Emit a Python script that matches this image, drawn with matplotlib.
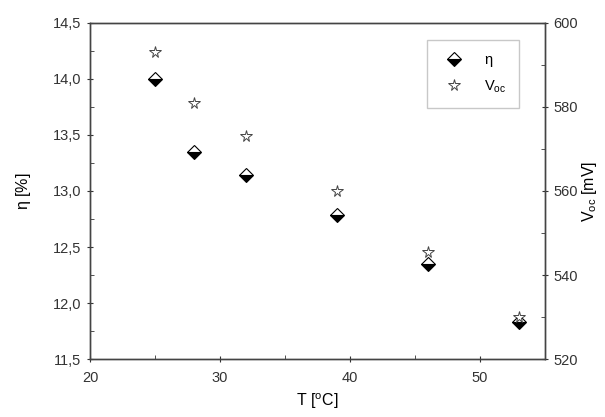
import matplotlib
matplotlib.use("Agg")
import matplotlib.pyplot as plt
from matplotlib.ticker import MultipleLocator, FuncFormatter

plt.rcParams["font.family"] = ["Liberation Sans", "DejaVu Sans"]
plt.rcParams["mathtext.fontset"] = "custom"
plt.rcParams["mathtext.rm"] = "Liberation Sans"
plt.rcParams["mathtext.it"] = "Liberation Sans"

# data
temp = [25, 28, 32, 39, 46, 53]
eta = [14.0, 13.35, 13.14, 12.79, 12.35, 11.83]
voc = [593, 581, 573, 560, 545.5, 530]

fig = plt.figure(figsize=(6.05, 4.17), dpi=100)
ax = fig.add_axes([0.149, 0.139, 0.751, 0.806])
ax2 = ax.twinx()

h1, = ax.plot(temp, eta, linestyle="none", marker="D", markersize=7,
              fillstyle="bottom", color="black", markerfacecoloralt="white",
              markeredgewidth=0.8, label=r"$\eta$")
h2, = ax2.plot(temp, voc, linestyle="none", marker="*", markersize=8.5,
               markerfacecolor="white", markeredgecolor="#444444",
               markeredgewidth=0.7, label=r"V$_{\mathrm{oc}}$")

ax.set_xlim(20, 55)
ax.set_ylim(11.5, 14.5)
ax2.set_ylim(520, 600)

ax.xaxis.set_major_locator(MultipleLocator(10))
ax.xaxis.set_minor_locator(MultipleLocator(5))
ax.yaxis.set_major_locator(MultipleLocator(0.5))
ax.yaxis.set_minor_locator(MultipleLocator(0.25))
ax2.yaxis.set_major_locator(MultipleLocator(20))
ax2.yaxis.set_minor_locator(MultipleLocator(10))
ax.yaxis.set_major_formatter(FuncFormatter(lambda v, p: f"{v:.1f}".replace(".", ",")))

for a in (ax, ax2):
    a.tick_params(which="major", direction="inout", length=5, width=0.8,
                  labelsize=10.5, colors="#333333", pad=4)
    a.tick_params(which="minor", direction="in", length=3, width=0.6, colors="#333333")
    for s in a.spines.values():
        s.set_color("#444444")
        s.set_linewidth(1.0)
ax.tick_params(axis="x", pad=6)
ax.tick_params(top=False, which="both")

ax.set_xlabel(r"T [$^{\mathrm{o}}$C]", fontsize=11.5, labelpad=5)
ax.set_ylabel(r"$\eta$ [%]", fontsize=11.5, labelpad=14)
ax2.set_ylabel(r"V$_{\mathrm{oc}}$ [mV]", fontsize=11.5, labelpad=1)

leg = ax.legend(handles=[h1, h2], loc="upper right", bbox_to_anchor=(0.96, 0.97),
                fontsize=10.5, frameon=True, fancybox=False, edgecolor="#bbbbbb",
                borderpad=0.9, handletextpad=1.0, labelspacing=0.6)

plt.savefig("out.png", dpi=100)
print("Saved out.png")
